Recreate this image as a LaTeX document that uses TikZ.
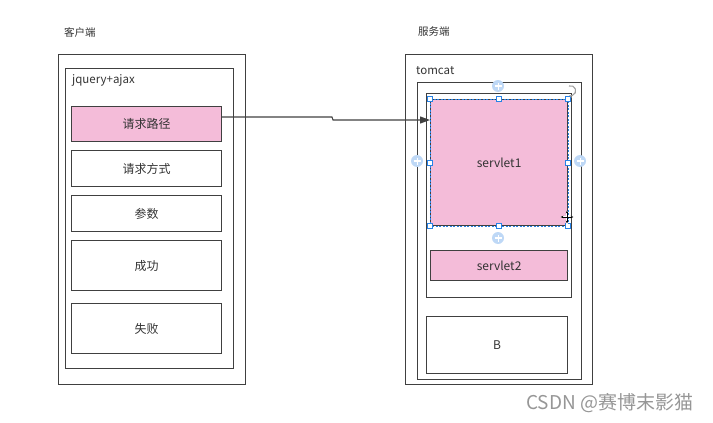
\documentclass[tikz,border=0pt]{standalone}
\usepackage{fontspec}
\setmainfont{Noto Sans CJK SC}
\usetikzlibrary{arrows.meta}
\definecolor{edge}{RGB}{64,64,64}
\definecolor{pinkfill}{RGB}{244,188,217}
\definecolor{txt}{RGB}{51,51,51}
\definecolor{selblue}{RGB}{40,130,230}
\definecolor{plusblue}{RGB}{190,216,246}
\definecolor{wm}{RGB}{150,150,150}
\tikzset{
  box/.style={draw=edge, line width=1.2pt, anchor=north west, inner sep=0pt, text=txt, font=\fontsize{12}{14}\selectfont},
  pinkbox/.style={box, fill=pinkfill},
  title/.style={anchor=west, inner sep=0pt, text=txt, font=\fontsize{10.5}{12}\selectfont},
  label/.style={anchor=west, inner sep=0pt, text=txt, font=\fontsize{11.5}{13}\selectfont},
  handle/.style={draw=selblue, fill=white, line width=0.7pt, minimum size=5pt, inner sep=0pt},
  plusc/.style={circle, fill=plusblue, minimum size=12pt, inner sep=0pt},
  conn/.style={draw=edge, line width=1.1pt, -{Triangle[length=10pt,width=7pt]}}
}
\begin{document}
\begin{tikzpicture}[x=1pt,y=-1pt]
\useasboundingbox (0,0) rectangle (713,423);
% client side
\node[title] (tc) at (64,32) {客户端};
\node[box, minimum width=187pt, minimum height=330pt] (cout) at (58,54) {};
\node[box, minimum width=168pt, minimum height=300pt] (cin) at (65,68) {};
\node[label] (jq) at (72,80) {jquery+ajax};
\node[pinkbox, minimum width=150pt, minimum height=35pt] (c1) at (71,106) {请求路径};
\node[box, minimum width=150pt, minimum height=36pt] (c2) at (71,150) {请求方式};
\node[box, minimum width=150pt, minimum height=36pt] (c3) at (71,195) {参数};
\node[box, minimum width=150pt, minimum height=50pt] (c4) at (71,240) {成功};
\node[box, minimum width=150pt, minimum height=50pt] (c5) at (71,303) {失败};
% server side
\node[title] (ts) at (418,32) {服务端};
\node[box, minimum width=187pt, minimum height=330pt] (sout) at (405,54) {};
\node[label] (tom) at (416,71) {tomcat};
\node[box, minimum width=164pt, minimum height=297pt] (stom) at (417,82) {};
\node[box, minimum width=145pt, minimum height=204pt] (sin) at (426,93) {};
\node[pinkbox, minimum width=137pt, minimum height=126pt] (s1) at (430,99) {servlet1};
\node[pinkbox, minimum width=137pt, minimum height=30pt] (s2) at (430,250) {servlet2};
\node[box, minimum width=141pt, minimum height=57pt] (sb) at (426,316) {B};
% selection overlay
\draw[selblue, line width=0.6pt, dash pattern=on 2pt off 1.5pt] (s1.north west) rectangle (s1.south east);
\foreach \a in {north west,north,north east,west,east,south west,south,south east}{
  \node[handle] at (s1.\a) {};
}
\foreach \px/\py in {498/86,417/161,580/161,498/238}{
  \node[plusc] at (\px,\py) {};
  \draw[white, line width=1.3pt] (\px-3.5,\py) -- (\px+3.5,\py);
  \draw[white, line width=0.6pt] (\px,\py-3.5) -- (\px,\py+3.5);
}
% rotate icon
\draw[edge!50, line width=1.1pt, -{Stealth[length=3.5pt]}] (569,86) arc[start angle=110, end angle=-110, radius=5pt];
% move cursor
\begin{scope}[shift={(567,217)}]
\draw[white, line width=2.6pt] (-6.5,0) -- (6.5,0) (0,-6.5) -- (0,6.5);
\draw[black, line width=0.8pt, {Stealth[length=3pt]}-{Stealth[length=3pt]}] (-6.5,0) -- (6.5,0);
\draw[black, line width=0.8pt, {Stealth[length=3pt]}-{Stealth[length=3pt]}] (0,-6.5) -- (0,6.5);
\end{scope}
% connector
\coordinate (k1) at (332,117);
\coordinate (k2) at (333,120);
\draw[conn] (c1.east |- 0,117) -- (k1) -- (k2) -- (s1.west |- 0,120);
% watermark
\node[anchor=west, inner sep=0pt, text=wm, font=\fontsize{19}{21}\selectfont] (wmk) at (526,403) {CSDN @赛博末影猫};
\end{tikzpicture}
\end{document}
